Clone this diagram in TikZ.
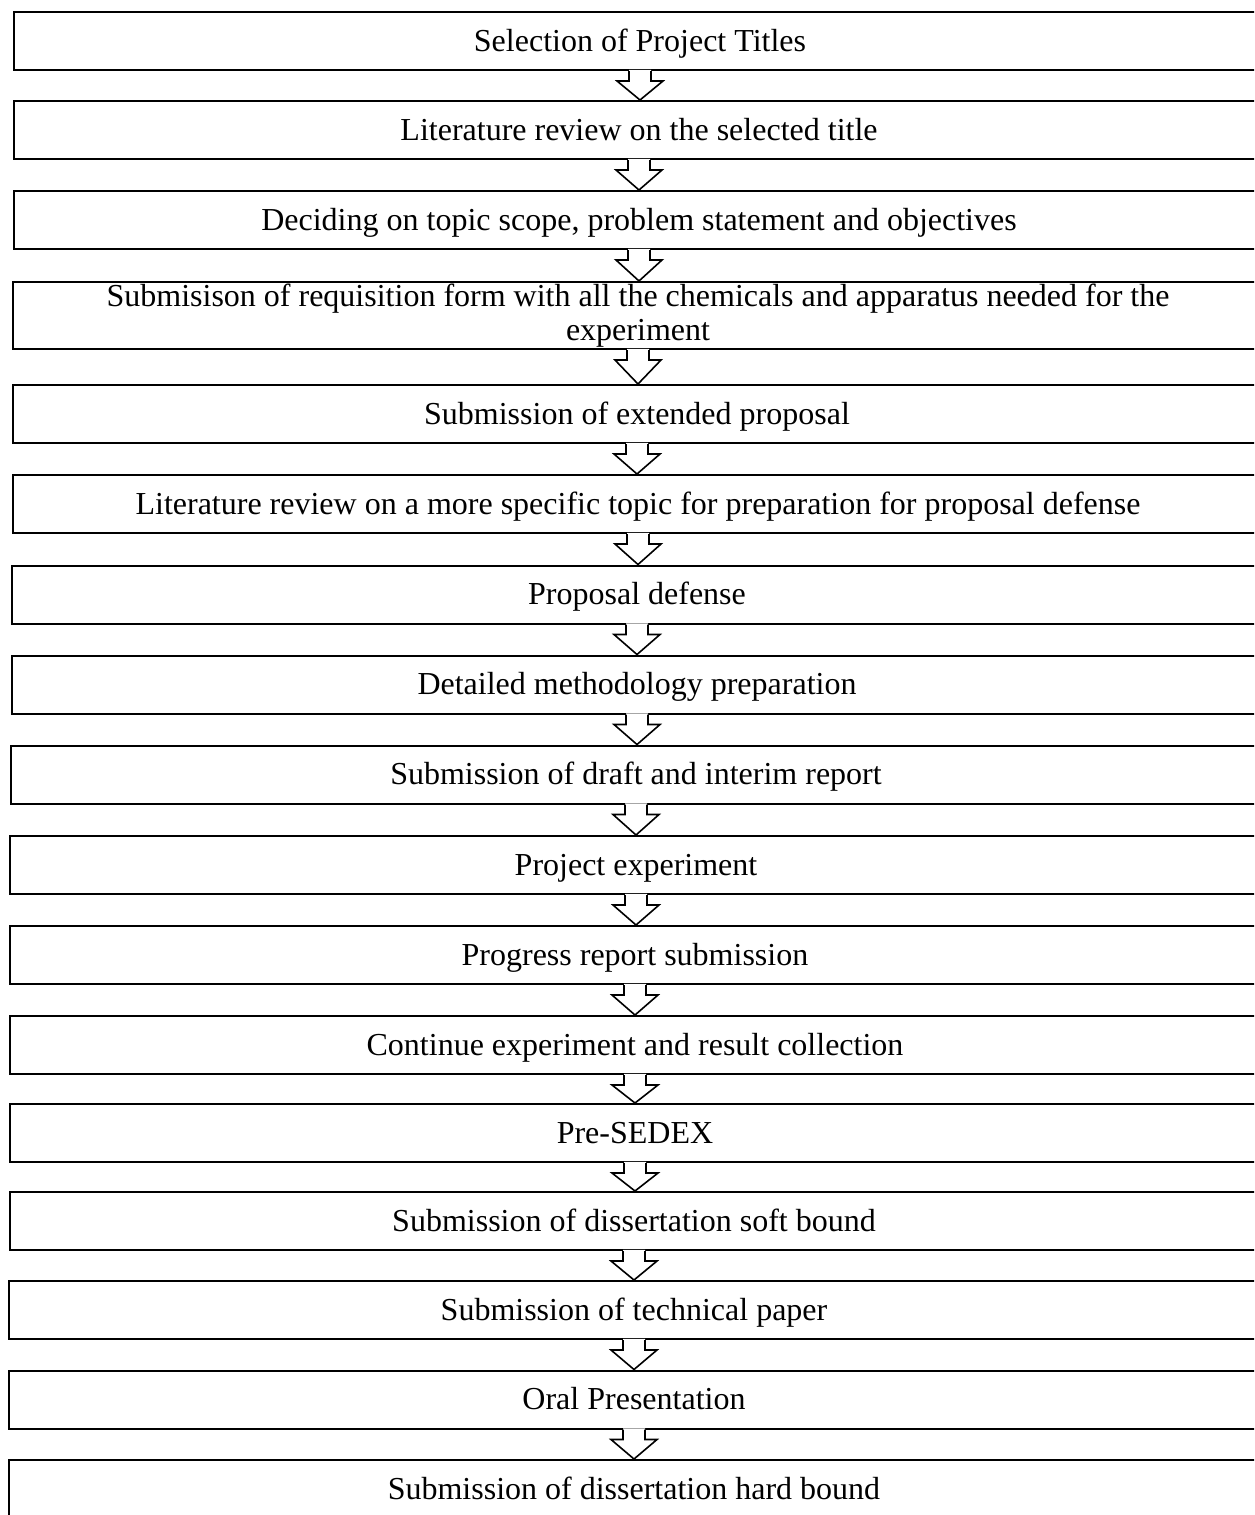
\documentclass[tikz,border=0pt]{standalone}
\usepackage{fontspec}
\setmainfont{Liberation Serif}
\usetikzlibrary{calc}
\tikzset{
  stepbox/.style={draw=black, line width=1pt, fill=white, inner sep=0pt,
    minimum height=29pt, align=center, text height=12pt, text depth=2pt,
    font=\fontsize{16}{17}\selectfont},
  flowarrow/.style={draw=black, line width=0.8pt, line join=miter},
}
\newcommand{\blockarrow}[2]{%
  \fill[white] let \p1=(#1.south), \p2=(#2.north) in
    (\x1-5.5pt,\y1+0.6pt) -- (\x1-5.5pt,\y1-5pt) -- (\x1-11.5pt,\y1-5pt) -- (\x1,\y2)
    -- (\x1+11.5pt,\y1-5pt) -- (\x1+5.5pt,\y1-5pt) -- (\x1+5.5pt,\y1+0.6pt) -- cycle;
  \draw[flowarrow] let \p1=(#1.south), \p2=(#2.north) in
    (\x1-5.5pt,\y1) -- (\x1-5.5pt,\y1-5pt) -- (\x1-11.5pt,\y1-5pt) -- (\x1,\y2)
    -- (\x1+11.5pt,\y1-5pt) -- (\x1+5.5pt,\y1-5pt) -- (\x1+5.5pt,\y1);
}
\begin{document}
\begin{tikzpicture}[x=0.5pt,y=-0.5pt]
\useasboundingbox (0,0) rectangle (1254,1515);
\clip (0,0) rectangle (1254,1515);
\fill[white] (0,0) rectangle (1254,1515);

\node[stepbox, minimum width=626pt] (b1) at (640,41) {Selection of Project Titles};
\node[stepbox, minimum width=625pt] (b2) at (639,130) {Literature review on the selected title};
\node[stepbox, minimum width=625pt] (b3) at (639,220) {Deciding on topic scope, problem statement and objectives};
\node[stepbox, minimum width=625pt, minimum height=33.5pt, text height=, text depth=] (b4) at (638,315.5) {Submisison of requisition form with all the chemicals and apparatus needed for the\\experiment};
\node[stepbox, minimum width=624pt] (b5) at (637,414) {Submission of extended proposal};
\node[stepbox, minimum width=625pt] (b6) at (638,504) {Literature review on a more specific topic for preparation for proposal defense};
\node[stepbox, minimum width=625pt] (b7) at (637,594.5) {Proposal defense};
\node[stepbox, minimum width=625pt] (b8) at (637,684.5) {Detailed methodology preparation};
\node[stepbox, minimum width=625pt] (b9) at (636,774.5) {Submission of draft and interim report};
\node[stepbox, minimum width=626pt] (b10) at (636,865) {Project experiment};
\node[stepbox, minimum width=625pt] (b11) at (635,955) {Progress report submission};
\node[stepbox, minimum width=625pt] (b12) at (635,1045) {Continue experiment and result collection};
\node[stepbox, minimum width=625pt] (b13) at (635,1133) {Pre-SEDEX};
\node[stepbox, minimum width=624pt] (b14) at (634,1221) {Submission of dissertation soft bound};
\node[stepbox, minimum width=625pt] (b15) at (634,1310) {Submission of technical paper};
\node[stepbox, minimum width=625pt] (b16) at (634,1399.5) {Oral Presentation};
\node[stepbox, minimum width=625pt] (b17) at (634,1489) {Submission of dissertation hard bound};

\blockarrow{b1}{b2}
\blockarrow{b2}{b3}
\blockarrow{b3}{b4}
\blockarrow{b4}{b5}
\blockarrow{b5}{b6}
\blockarrow{b6}{b7}
\blockarrow{b7}{b8}
\blockarrow{b8}{b9}
\blockarrow{b9}{b10}
\blockarrow{b10}{b11}
\blockarrow{b11}{b12}
\blockarrow{b12}{b13}
\blockarrow{b13}{b14}
\blockarrow{b14}{b15}
\blockarrow{b15}{b16}
\blockarrow{b16}{b17}
\end{tikzpicture}
\end{document}
